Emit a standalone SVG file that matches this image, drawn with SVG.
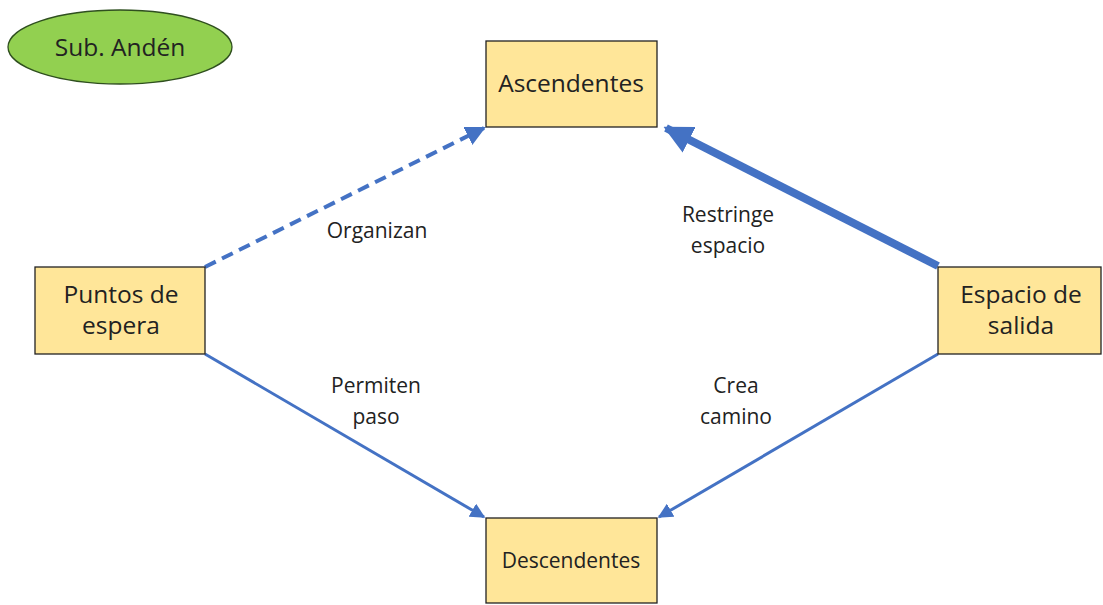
<svg xmlns="http://www.w3.org/2000/svg" width="1103" height="605" viewBox="0 0 1103 605">
<style>
.node rect{fill:#FFE699;stroke:#222;stroke-width:1.3}
.nt{font-family:"Open Sans","Liberation Sans",sans-serif;font-size:24.5px;fill:#222;text-anchor:middle}
.nts{font-size:21px}
.lb{font-family:"Open Sans","Liberation Sans",sans-serif;font-size:21px;fill:#222;text-anchor:middle}
.c{stroke:#4472C4;fill:none}
</style>
<defs>
<marker id="ah" viewBox="0 0 10 10" refX="9" refY="5" markerWidth="5" markerHeight="5" markerUnits="strokeWidth" orient="auto"><path d="M0,0 L10,5 L0,10 z" fill="#4472C4"/></marker>
<marker id="ahb" viewBox="0 0 10 10" refX="9" refY="5" markerWidth="3.6" markerHeight="3.6" markerUnits="strokeWidth" orient="auto"><path d="M0,0 L10,5 L0,10 z" fill="#4472C4"/></marker>
</defs>
<rect width="1103" height="605" fill="#fff"/>
<g id="connectors">
<line class="c" x1="205" y1="267" x2="484" y2="128" stroke-width="4" stroke-dasharray="12,7" marker-end="url(#ah)"/>
<line class="c" x1="938" y1="266" x2="666" y2="128" stroke-width="8" marker-end="url(#ahb)"/>
<line class="c" x1="205" y1="354" x2="484" y2="517" stroke-width="3" marker-end="url(#ah)"/>
<line class="c" x1="938" y1="354" x2="659" y2="517" stroke-width="3" marker-end="url(#ah)"/>
<text class="lb" x="377" y="238">Organizan</text>
<text class="lb" x="728" y="222">Restringe</text>
<text class="lb" x="728" y="253">espacio</text>
<text class="lb" x="376" y="393">Permiten</text>
<text class="lb" x="376" y="424">paso</text>
<text class="lb" x="736" y="393">Crea</text>
<text class="lb" x="736" y="424">camino</text>
</g>
<g id="sub-anden">
<ellipse cx="120" cy="47" rx="112" ry="37" fill="#92D050" stroke="#2F4F1F" stroke-width="1.3"/>
<text class="nt" x="120" y="56">Sub. Andén</text>
</g>
<g id="ascendentes" class="node">
<rect x="486" y="41" width="171" height="86"/>
<text class="nt" x="571" y="92">Ascendentes</text>
</g>
<g id="puntos" class="node">
<rect x="35" y="267" width="170" height="87"/>
<text class="nt" x="121" y="303">Puntos de</text>
<text class="nt" x="121" y="334">espera</text>
</g>
<g id="espacio" class="node">
<rect x="938" y="267" width="163" height="87"/>
<text class="nt" x="1021" y="303">Espacio de</text>
<text class="nt" x="1021" y="334">salida</text>
</g>
<g id="descendentes" class="node">
<rect x="486" y="518" width="171" height="85"/>
<text class="nt nts" x="571" y="568">Descendentes</text>
</g>
</svg>
